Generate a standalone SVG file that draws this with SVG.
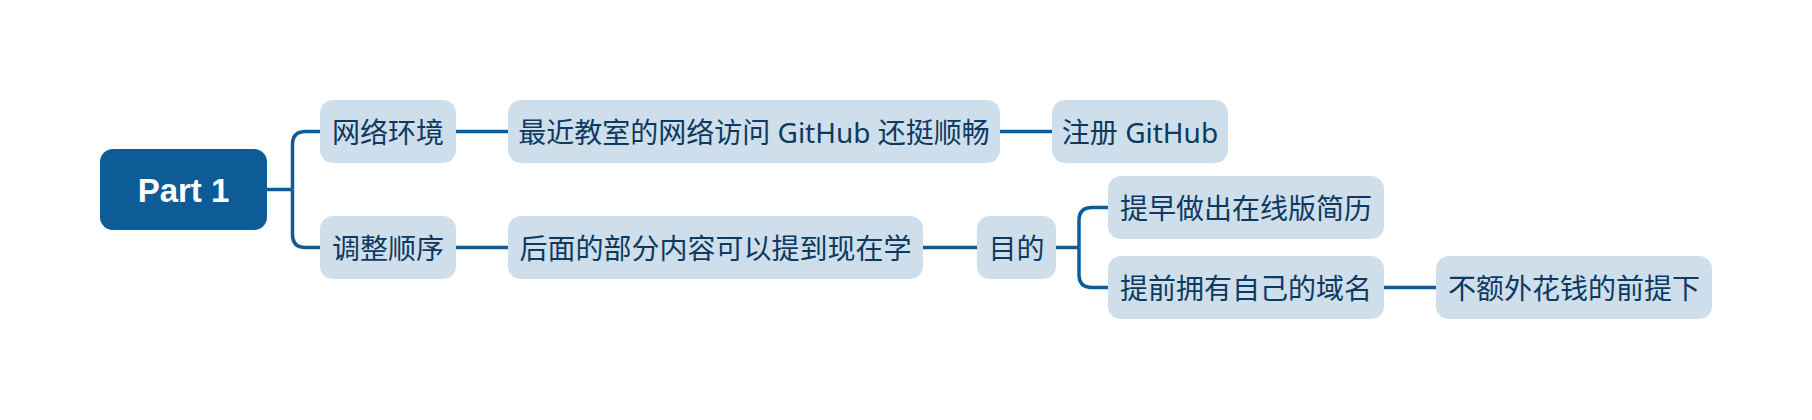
<svg xmlns="http://www.w3.org/2000/svg" width="1812" height="420" viewBox="0 0 1812 420">
<style>
.bg{fill:#ffffff}
.node rect{fill:#cfdeeb}
.node text{font-family:"Noto Sans","Noto Sans CJK SC",sans-serif;font-size:28px;fill:#0c3a60;text-anchor:middle;dominant-baseline:central}
.root rect{fill:#0d5c97}
.root text{font-family:"Liberation Sans",Arial,sans-serif;font-weight:bold;font-size:33px;fill:#ffffff;text-anchor:middle;dominant-baseline:central}
.conn path{fill:none;stroke:#0d5c97;stroke-width:3.5;stroke-linecap:butt}
</style>
<rect class="bg" x="0" y="0" width="1812" height="420"/>
<g id="connectors" class="conn">
<path d="M267 189.5 H292.5"/>
<path d="M292.5 189.5 V144.5 Q292.5 131.5 305.5 131.5 H320"/>
<path d="M292.5 189.5 V234.5 Q292.5 247.5 305.5 247.5 H320"/>
<path d="M456 131.5 H508"/>
<path d="M1000 131.5 H1052"/>
<path d="M456 247.5 H508"/>
<path d="M923 247.5 H977"/>
<path d="M1056 247.5 H1079"/>
<path d="M1079 247.5 V220.5 Q1079 207.5 1092 207.5 H1108"/>
<path d="M1079 247.5 V274.5 Q1079 287.5 1092 287.5 H1108"/>
<path d="M1384 287.5 H1436"/>
</g>
<g id="root" class="root">
<rect x="100" y="149" width="167" height="81" rx="13"/>
<text x="183.5" y="190">Part 1</text>
</g>
<g id="n-network" class="node">
<rect x="320" y="100" width="136" height="63" rx="13"/>
<text x="388" y="131.5">网络环境</text>
</g>
<g id="n-access" class="node">
<rect x="508" y="100" width="492" height="63" rx="13"/>
<text x="754" y="131.5">最近教室的网络访问 GitHub 还挺顺畅</text>
</g>
<g id="n-register" class="node">
<rect x="1052" y="100" width="176" height="63" rx="13"/>
<text x="1140" y="131.5">注册 GitHub</text>
</g>
<g id="n-order" class="node">
<rect x="320" y="216" width="136" height="63" rx="13"/>
<text x="388" y="247.5">调整顺序</text>
</g>
<g id="n-later" class="node">
<rect x="508" y="216" width="415" height="63" rx="13"/>
<text x="715.5" y="247.5">后面的部分内容可以提到现在学</text>
</g>
<g id="n-goal" class="node">
<rect x="977" y="216" width="79" height="63" rx="13"/>
<text x="1016.5" y="247.5">目的</text>
</g>
<g id="n-resume" class="node">
<rect x="1108" y="176" width="276" height="63" rx="13"/>
<text x="1246" y="207.5">提早做出在线版简历</text>
</g>
<g id="n-domain" class="node">
<rect x="1108" y="256" width="276" height="63" rx="13"/>
<text x="1246" y="287.5">提前拥有自己的域名</text>
</g>
<g id="n-free" class="node">
<rect x="1436" y="256" width="276" height="63" rx="13"/>
<text x="1574" y="287.5">不额外花钱的前提下</text>
</g>
</svg>
